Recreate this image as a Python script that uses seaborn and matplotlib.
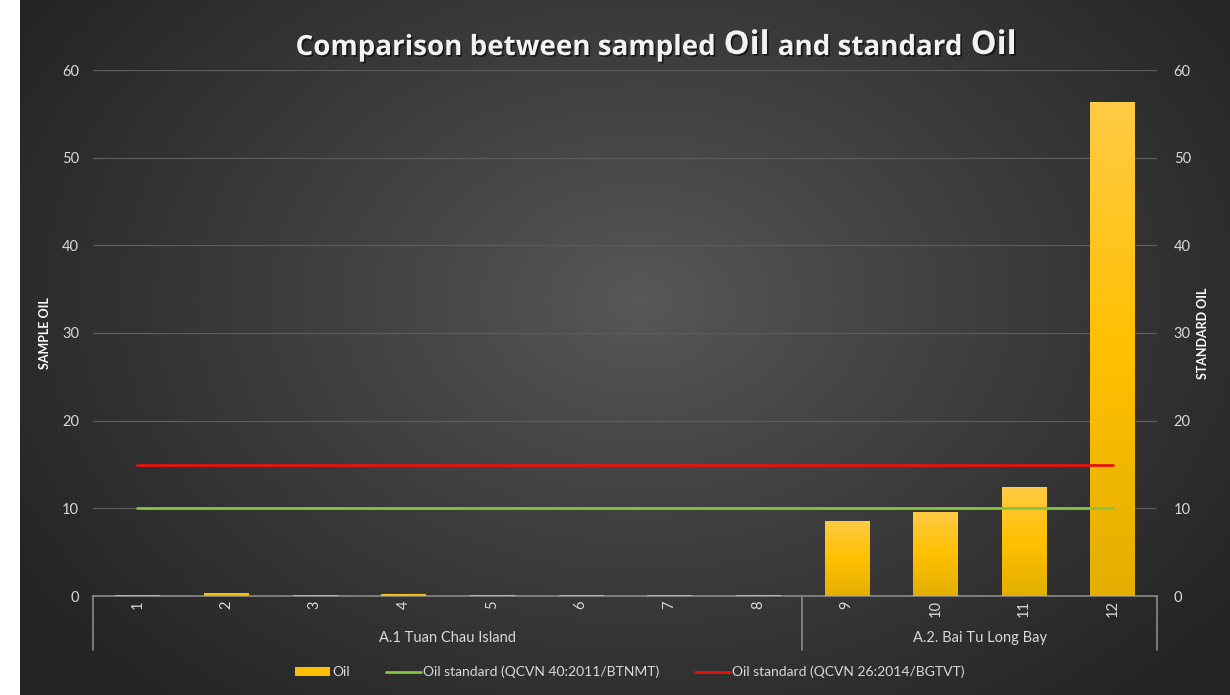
import numpy as np
import pandas as pd
import matplotlib
matplotlib.use("Agg")
import matplotlib.pyplot as plt
import matplotlib.patheffects as pe
from matplotlib.patches import Patch
from matplotlib.lines import Line2D
from matplotlib.colors import LinearSegmentedColormap
import seaborn as sns

# ---------------- data ----------------
categories = ["1", "2", "3", "4", "5", "6", "7", "8", "9", "10", "11", "12"]
groups = ["A.1 Tuan Chau Island"] * 8 + ["A.2. Bai Tu Long Bay"] * 4
oil = [0.12, 0.35, 0.12, 0.22, 0.12, 0.12, 0.12, 0.12, 8.6, 9.6, 12.4, 56.3]
std_qcvn40 = [10] * 12
std_qcvn26 = [15] * 12
yticks = [0, 10, 20, 30, 40, 50, 60]
title_parts = [("Comparison between sampled", False), ("Oil", True),
               ("and standard", False), ("Oil", True)]
legend_labels = ["Oil", "Oil standard (QCVN 40:2011/BTNMT)", "Oil standard (QCVN 26:2014/BGTVT)"]

df = pd.DataFrame({"sample": categories, "group": groups, "oil": oil,
                   "std40": std_qcvn40, "std26": std_qcvn26})
df["pos"] = df.index

sns.set_theme(style="dark")
plt.rcParams["font.family"] = ["Lato", "DejaVu Sans"]

W, H = 1230, 695
fig = plt.figure(figsize=(W / 100, H / 100), dpi=100, facecolor="white")

# ---------------- background radial gradient ----------------
bg = fig.add_axes([20 / W, 0, (W - 20) / W, 1])
bw, bh = W - 20, H
yy, xx = np.mgrid[0:bh, 0:bw]
cx, cy = 620, 300
d = np.sqrt(((xx - cx) / (bw * 0.62)) ** 2 + ((yy - cy) / (bh * 0.78)) ** 2)
d = np.clip(d, 0, 1)
c_in = np.array([0x58, 0x58, 0x58]) / 255
c_out = np.array([0x23, 0x23, 0x23]) / 255
img = c_in + (c_out - c_in) * (d[..., None] ** 0.9)
bg.imshow(img, aspect="auto", extent=[0, 1, 0, 1], origin="upper")
bg.set_axis_off()

# ---------------- main axes ----------------
x_left, x_right, y_top, y_bot = 93, 1157, 70, 596
ax = fig.add_axes([x_left / W, 1 - y_bot / H, (x_right - x_left) / W, (y_bot - y_top) / H])
ax.patch.set_alpha(0)

sns.barplot(data=df, x="sample", y="oil", order=categories, color="#FFC000",
            saturation=1, width=0.5, ax=ax, zorder=3, linewidth=0)
ax.set_xlim(-0.5, len(categories) - 0.5)
ax.set_ylim(0, 60)

# vertical gradient on bars
grad = LinearSegmentedColormap.from_list("g", ["#E3AF00", "#FFC000", "#FFCB45"])
bars = list(ax.patches)
for p in bars:
    x0, y0, w, h = p.get_x(), p.get_y(), p.get_width(), p.get_height()
    im = ax.imshow(np.linspace(0, 1, 256).reshape(-1, 1), cmap=grad,
                   extent=[x0, x0 + w, y0, y0 + h], origin="lower",
                   aspect="auto", zorder=3.5)
    im.set_clip_path(p)
ax.set_xlim(-0.5, len(categories) - 0.5)
ax.set_ylim(0, 60)

ax.set_yticks(yticks)
ax.yaxis.grid(True, color="#5C5C5C", linewidth=0.9)
ax.xaxis.grid(False)
ax.set_axisbelow(True)
for s in ["left", "right", "top"]:
    ax.spines[s].set_visible(False)
ax.spines["bottom"].set_color("#8A8A8A")
ax.spines["bottom"].set_linewidth(1.2)
ax.spines["bottom"].set_zorder(2.5)
ax.tick_params(axis="y", length=0, pad=10, labelcolor="#D9D9D9", labelsize=10.5)
ax.tick_params(axis="x", length=0, pad=3, labelcolor="#D9D9D9", labelsize=10.5,
               labelrotation=90)
ax.set_xlabel("")
ax.set_ylabel("")

# ---------------- secondary axis with standard lines ----------------
ax2 = ax.twinx()
ax2.patch.set_alpha(0)
sns.lineplot(data=df, x="pos", y="std40", color="#86C441", linewidth=2.0, ax=ax2)
sns.lineplot(data=df, x="pos", y="std26", color="#E8120F", linewidth=2.0, ax=ax2)
ax2.set_ylim(0, 60)
ax2.set_yticks(yticks)
ax2.set_xlim(-0.5, len(categories) - 0.5)
ax2.grid(False)
for s in ax2.spines.values():
    s.set_visible(False)
ax2.tick_params(axis="y", length=0, pad=12, labelcolor="#D9D9D9", labelsize=10.5)
ax2.set_ylabel("")
ax2.set_xlabel("")
ax.set_xticks(range(len(categories)))
ax.set_xticklabels(categories)
ax.set_xlabel("")

# ---------------- group labels / dividers ----------------
trans = ax.get_xaxis_transform()
axh = y_bot - y_top
div_bottom = -(650 - y_bot) / axh
lab_y = -(638 - y_bot) / axh
grp = df.groupby("group", sort=False)["pos"].agg(["min", "max"])
bounds = sorted(set([v - 0.5 for v in grp["min"]] + [v + 0.5 for v in grp["max"]]))
for b in bounds:
    ax.add_line(Line2D([b, b], [0, div_bottom], transform=trans, color="#8A8A8A",
                       linewidth=1.2, clip_on=False))
for name, row in grp.iterrows():
    ax.text((row["min"] + row["max"]) / 2, lab_y, name, transform=trans,
            ha="center", va="center", fontsize=10.5, color="#D9D9D9")

# ---------------- axis titles ----------------
fig.text(45 / W, 1 - 333 / H, "SAMPLE OIL", rotation=90, ha="center", va="center",
         fontsize=9, fontweight="bold", color="white")
fig.text(1203 / W, 1 - 333 / H, "STANDARD OIL", rotation=90, ha="center", va="center",
         fontsize=9, fontweight="bold", color="white")

# ---------------- legend ----------------
handles = [Patch(facecolor="#FFC000", edgecolor="none"),
           Line2D([], [], color="#86C441", linewidth=2.0),
           Line2D([], [], color="#E8120F", linewidth=2.0)]
fig.legend(handles, legend_labels, loc="center", bbox_to_anchor=(630 / W, 1 - 672 / H),
           ncol=3, frameon=False, fontsize=10, labelcolor="#D9D9D9",
           handlelength=2.5, handleheight=0.6, handletextpad=0.15, columnspacing=2.6)

# ---------------- title ----------------
shadow = [pe.withSimplePatchShadow(offset=(1.2, -1.2), shadow_rgbFace="black", alpha=0.6)]
tfam = ["Open Sans", "DejaVu Sans"]
texts = []
prev = None
for s, big in title_parts:
    fs = 23.5 if big else 20
    if prev is None:
        t = fig.text(0.3, 1 - 55 / H, s, fontsize=fs, fontweight="bold", family=tfam,
                     color="#F2F2F2", va="baseline", ha="left", path_effects=shadow)
    else:
        t = ax.annotate(s, xy=(1, 0), xycoords=prev, xytext=(6, 0),
                        textcoords="offset points", fontsize=fs, fontweight="bold",
                        family=tfam, color="#F2F2F2", va="bottom", ha="left",
                        path_effects=shadow, annotation_clip=False)
    texts.append(t)
    prev = t

fig.canvas.draw()
r = fig.canvas.get_renderer()
l = texts[0].get_window_extent(r).x0
rr = texts[-1].get_window_extent(r).x1
width = rr - l
texts[0].set_x((656 - width / 2) / W)

fig.savefig("out.png", dpi=100, facecolor="white")
